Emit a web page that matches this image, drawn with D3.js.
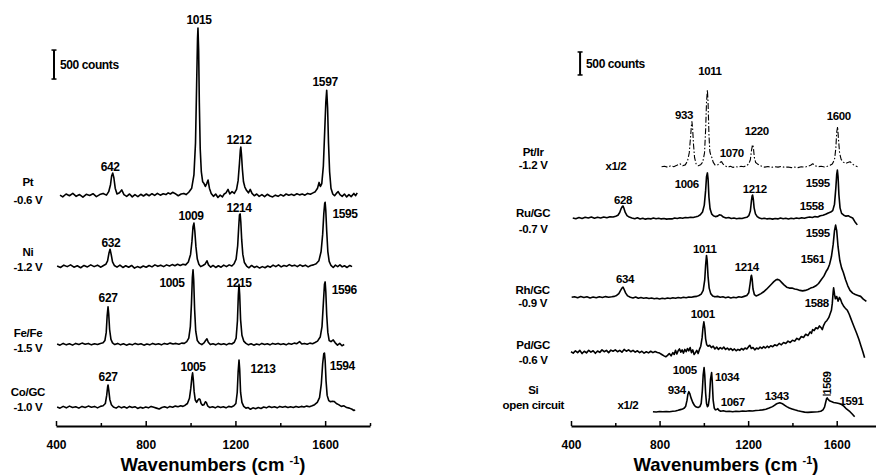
<!DOCTYPE html>
<html>
<head>
<meta charset="utf-8">
<script src="https://cdn.jsdelivr.net/npm/d3@7"></script>
<style>
  body { margin: 0; background: #fff; }
  text { font-family: "Liberation Sans", Arial, sans-serif; font-weight: bold; fill: #000; }
</style>
</head>
<body>
<svg id="chart" width="876" height="476"></svg>
<script>
// SERS spectra, two panels. Values are [wavenumber cm-1, counts above trace baseline]

// ---- left panel spectra ----
const ptSpec = [[418,0],[430,-30],[445,20],[460,-10],[475,30],[490,-20],[505,10],[520,-35],[535,15],[550,-5],[565,25],[580,-25],[595,10],[610,30],[625,0],[635,60],[643,180],[648,330],[653,380],[658,300],[664,120],[672,20],[683,40],[693,90],[703,10],[715,-20],[728,20],[740,-30],[752,10],[765,-25],[778,15],[790,-15],[803,20],[815,-10],[828,25],[840,-5],[852,30],[865,0],[878,25],[890,10],[900,40],[910,20],[920,50],[930,30],[945,-10],[958,20],[970,30],[980,10],[992,50],[1005,120],[1015,350],[1022,900],[1027,1900],[1031,2700],[1033,2880],[1036,2500],[1039,1600],[1043,800],[1048,400],[1054,230],[1060,200],[1066,150],[1072,200],[1078,260],[1084,120],[1092,30],[1102,-20],[1112,20],[1122,-40],[1132,0],[1142,-30],[1150,20],[1158,40],[1167,100],[1175,20],[1185,60],[1195,30],[1205,100],[1212,250],[1218,550],[1222,780],[1224,830],[1227,700],[1231,450],[1236,230],[1242,140],[1250,80],[1258,40],[1266,100],[1274,30],[1284,-10],[1295,20],[1306,-20],[1318,10],[1330,-25],[1342,15],[1354,-15],[1366,-30],[1378,0],[1390,-20],[1402,10],[1414,-15],[1426,20],[1438,0],[1450,15],[1462,-5],[1474,25],[1486,5],[1498,20],[1510,0],[1522,30],[1534,15],[1546,40],[1556,60],[1566,120],[1573,220],[1579,150],[1585,200],[1592,500],[1598,1100],[1603,1600],[1607,1810],[1611,1500],[1615,900],[1620,400],[1626,120],[1634,20],[1642,-10],[1650,30],[1658,60],[1666,10],[1676,-20],[1686,20],[1696,-30],[1706,10],[1716,-25],[1728,30],[1736,-10],[1743,40]];

const niSpec = [[405,0],[420,-25],[435,15],[450,-10],[465,20],[480,-20],[495,5],[510,-30],[525,10],[540,-15],[555,20],[570,-10],[585,15],[600,-20],[612,10],[622,30],[630,90],[636,220],[641,290],[646,200],[652,70],[660,10],[672,-20],[685,15],[698,-25],[711,5],[724,-20],[737,10],[750,-35],[763,-10],[776,-30],[789,0],[802,-20],[815,10],[828,-15],[841,20],[854,-5],[867,15],[880,-10],[893,20],[906,0],[918,25],[930,5],[942,30],[954,10],[966,30],[978,20],[990,70],[1000,200],[1006,420],[1011,680],[1015,740],[1019,600],[1024,330],[1030,120],[1037,30],[1045,-10],[1055,10],[1064,30],[1073,90],[1080,20],[1090,-20],[1100,10],[1112,-25],[1124,5],[1136,-20],[1148,15],[1160,-10],[1172,20],[1184,0],[1194,40],[1203,120],[1210,350],[1215,700],[1218,880],[1221,900],[1224,760],[1228,450],[1233,200],[1240,60],[1250,0],[1260,-30],[1272,10],[1284,-25],[1296,-5],[1308,-35],[1320,-10],[1332,-30],[1344,0],[1356,-20],[1368,15],[1380,-10],[1392,20],[1404,-15],[1416,10],[1428,-5],[1440,25],[1452,0],[1464,15],[1476,-10],[1488,20],[1500,-5],[1512,15],[1524,-15],[1536,10],[1548,20],[1560,40],[1572,90],[1582,250],[1589,550],[1594,900],[1598,1080],[1600,1100],[1603,950],[1607,600],[1612,250],[1618,80],[1626,10],[1636,-25],[1646,15],[1656,-10],[1666,20],[1676,-15],[1686,5],[1698,-25],[1710,10],[1720,-10]];

const feSpec = [[405,0],[418,-20],[432,10],[446,-15],[460,5],[474,-20],[488,10],[502,-10],[516,15],[530,-5],[544,10],[558,-15],[572,5],[585,-10],[598,10],[610,20],[618,60],[624,200],[628,480],[632,640],[635,520],[639,250],[645,80],[652,20],[662,-10],[675,10],[688,-15],[701,5],[714,-20],[727,0],[740,-15],[753,10],[766,-10],[779,5],[792,-20],[805,0],[818,-15],[831,10],[844,-10],[857,5],[870,-15],[883,10],[896,-5],[909,15],[922,0],[935,10],[948,-5],[960,15],[972,10],[983,40],[992,100],[999,300],[1004,700],[1008,1150],[1011,1280],[1014,1100],[1018,600],[1023,220],[1030,60],[1040,10],[1050,-10],[1060,20],[1067,60],[1073,90],[1079,30],[1088,-10],[1100,5],[1112,-15],[1124,10],[1136,-10],[1148,5],[1160,-15],[1172,10],[1184,0],[1195,30],[1203,100],[1209,400],[1213,850],[1216,1030],[1219,850],[1223,420],[1229,150],[1237,50],[1247,10],[1258,-15],[1270,5],[1282,-20],[1294,0],[1306,-15],[1318,10],[1330,-10],[1342,5],[1354,-15],[1366,10],[1378,-5],[1390,10],[1402,-10],[1414,5],[1426,-15],[1438,10],[1450,-5],[1462,15],[1474,5],[1486,40],[1496,0],[1508,10],[1520,-5],[1532,15],[1544,5],[1555,25],[1566,50],[1578,120],[1586,300],[1592,700],[1597,1030],[1600,1070],[1603,900],[1607,500],[1612,200],[1618,60],[1626,40],[1636,70],[1645,20],[1655,-20],[1665,10],[1675,-30],[1685,-10]];

const coSpec = [[405,0],[418,-20],[432,10],[446,-15],[460,15],[474,-10],[488,5],[502,-20],[516,10],[530,-10],[544,15],[558,-5],[572,10],[585,-15],[598,10],[610,20],[620,60],[626,200],[630,340],[632,380],[635,300],[640,130],[647,40],[656,0],[668,-20],[680,10],[692,-15],[704,5],[716,-20],[728,10],[740,-10],[752,5],[764,-25],[776,-5],[788,-20],[800,0],[812,-15],[824,10],[836,-5],[848,-20],[860,-35],[872,-10],[884,5],[896,-15],[908,10],[920,-5],[932,15],[944,5],[956,20],[966,10],[976,30],[986,60],[995,150],[1001,320],[1006,520],[1009,590],[1012,480],[1016,260],[1021,120],[1027,80],[1033,120],[1038,140],[1042,130],[1047,60],[1053,30],[1060,40],[1066,90],[1070,80],[1076,20],[1086,-10],[1098,5],[1110,-15],[1122,10],[1134,-10],[1146,5],[1158,-15],[1170,10],[1182,0],[1193,20],[1202,60],[1208,250],[1212,600],[1216,810],[1219,650],[1223,250],[1229,80],[1237,10],[1247,-20],[1257,-10],[1267,-40],[1278,-15],[1290,-30],[1302,-10],[1314,-25],[1326,0],[1338,-15],[1350,10],[1362,-10],[1374,5],[1386,-15],[1398,10],[1410,-5],[1422,10],[1434,-10],[1446,5],[1458,-10],[1470,10],[1482,-5],[1494,10],[1506,0],[1518,15],[1530,5],[1542,20],[1553,40],[1565,80],[1575,160],[1583,400],[1589,750],[1594,920],[1597,930],[1600,800],[1604,450],[1609,200],[1616,110],[1624,90],[1632,100],[1640,95],[1650,60],[1660,40],[1672,10],[1684,20],[1696,-10],[1708,-20],[1720,-40],[1728,-60],[1734,-50]];

// ---- right panel spectra ----
const ptirSpec = [[809,0],[822,10],[836,-10],[850,20],[864,0],[878,30],[892,65],[904,20],[916,40],[926,120],[934,300],[940,650],[944,900],[946,980],[949,850],[953,500],[958,200],[965,60],[975,20],[985,40],[995,100],[1003,300],[1008,800],[1012,1400],[1016,1670],[1019,1400],[1023,700],[1027,330],[1031,260],[1036,200],[1042,100],[1050,40],[1060,30],[1068,60],[1075,100],[1080,110],[1086,60],[1096,20],[1108,-10],[1120,10],[1132,-15],[1144,0],[1156,-10],[1168,10],[1180,0],[1192,20],[1203,60],[1210,150],[1215,350],[1219,460],[1221,480],[1224,400],[1228,200],[1234,90],[1242,60],[1252,30],[1262,10],[1275,-10],[1290,5],[1305,-15],[1320,0],[1335,-10],[1350,5],[1365,-15],[1380,-5],[1395,-20],[1410,-10],[1425,-20],[1440,0],[1455,-10],[1470,10],[1482,30],[1492,65],[1502,20],[1515,0],[1530,10],[1545,-5],[1558,10],[1570,30],[1580,60],[1590,150],[1596,400],[1600,750],[1604,870],[1608,600],[1613,300],[1620,160],[1630,100],[1640,70],[1650,90],[1660,110],[1670,60],[1682,20],[1694,0]];

const ruSpec = [[408,0],[422,-15],[436,10],[450,-10],[464,15],[478,0],[492,20],[506,-5],[520,15],[534,0],[548,20],[562,5],[576,25],[590,20],[602,40],[612,60],[620,120],[627,210],[632,250],[635,260],[639,210],[645,120],[653,50],[663,20],[675,0],[688,-15],[700,5],[712,-20],[724,-5],[736,-25],[748,-10],[760,-20],[772,0],[784,-15],[796,-5],[808,-20],[820,-10],[832,-25],[844,-15],[856,-20],[868,0],[880,-10],[892,5],[904,-5],[916,10],[928,5],[940,15],[952,10],[964,25],[974,40],[984,70],[994,130],[1002,280],[1008,600],[1012,900],[1016,980],[1019,850],[1023,450],[1028,200],[1035,90],[1043,50],[1052,30],[1062,40],[1070,70],[1078,60],[1088,20],[1100,0],[1112,10],[1124,-10],[1136,0],[1148,-15],[1160,-5],[1172,-10],[1184,5],[1194,15],[1203,50],[1210,150],[1215,380],[1218,480],[1220,500],[1223,420],[1227,220],[1233,90],[1241,30],[1251,0],[1262,-15],[1274,-5],[1286,-20],[1298,-10],[1310,-25],[1322,-10],[1334,-20],[1346,0],[1358,-15],[1370,-5],[1382,-20],[1394,-5],[1406,-15],[1418,0],[1430,-10],[1442,5],[1454,-5],[1466,10],[1478,20],[1490,10],[1502,30],[1514,20],[1526,50],[1538,60],[1550,80],[1562,110],[1573,130],[1582,160],[1590,300],[1596,650],[1600,950],[1603,1040],[1606,900],[1610,500],[1615,220],[1622,100],[1632,60],[1642,40],[1652,50],[1662,20],[1672,0],[1682,-80],[1693,-150]];

const rhSpec = [[403,0],[416,10],[430,-10],[444,15],[458,-5],[472,10],[486,-15],[500,5],[514,-10],[528,10],[542,-5],[556,15],[570,0],[584,10],[596,20],[606,40],[616,80],[624,150],[630,200],[635,220],[640,170],[647,90],[656,30],[668,0],[680,-15],[692,5],[704,-20],[716,-5],[728,-20],[740,-10],[752,-25],[764,-15],[776,-30],[788,-20],[800,-35],[812,-20],[824,-30],[836,-15],[848,-25],[860,-10],[872,-20],[884,-5],[896,-15],[908,0],[920,-10],[932,5],[944,0],[956,15],[968,20],[978,40],[988,70],[997,150],[1004,380],[1008,700],[1012,910],[1015,800],[1019,450],[1024,200],[1031,80],[1040,30],[1050,10],[1062,20],[1074,0],[1086,10],[1098,-10],[1110,5],[1122,-15],[1134,0],[1146,-10],[1158,10],[1170,0],[1182,20],[1194,40],[1203,100],[1209,300],[1213,450],[1215,480],[1218,400],[1222,180],[1228,60],[1236,30],[1246,50],[1258,80],[1270,120],[1282,170],[1294,230],[1306,290],[1316,340],[1326,380],[1334,390],[1342,370],[1352,320],[1362,270],[1374,220],[1386,200],[1398,200],[1410,180],[1422,170],[1434,150],[1446,140],[1458,150],[1470,170],[1482,200],[1494,220],[1506,250],[1518,300],[1530,380],[1542,460],[1552,560],[1560,620],[1568,720],[1576,880],[1584,1150],[1590,1450],[1595,1570],[1600,1450],[1606,1100],[1614,800],[1622,640],[1630,540],[1640,380],[1650,250],[1660,150],[1672,90],[1684,60],[1696,40],[1708,20],[1720,-40],[1734,-90]];

const pdSpec = [[400,0],[410,-30],[420,20],[430,-20],[440,30],[450,-40],[460,10],[470,-25],[480,30],[490,-10],[500,20],[510,-35],[520,15],[530,-15],[540,40],[550,0],[560,30],[570,-20],[580,35],[590,10],[600,40],[610,0],[620,30],[630,-10],[640,50],[650,10],[660,40],[670,0],[680,30],[690,-10],[700,20],[710,-20],[720,10],[730,-30],[740,0],[750,-25],[760,10],[770,-20],[780,5],[790,-15],[800,-30],[810,-60],[820,-90],[828,-110],[836,-80],[844,-40],[852,-90],[860,-20],[866,-60],[872,30],[878,-50],[884,20],[890,60],[896,-10],[902,40],[908,-30],[914,50],[920,0],[926,70],[932,20],[938,90],[944,-20],[950,40],[956,-60],[962,-20],[968,30],[974,-40],[980,50],[986,120],[992,300],[996,520],[1000,650],[1004,520],[1008,280],[1013,150],[1019,120],[1026,140],[1034,90],[1042,120],[1050,60],[1058,100],[1066,50],[1074,90],[1082,60],[1090,100],[1098,50],[1106,80],[1114,40],[1122,70],[1130,30],[1138,60],[1146,20],[1154,50],[1162,30],[1170,70],[1178,40],[1186,80],[1194,60],[1202,110],[1208,140],[1214,70],[1222,90],[1230,40],[1238,80],[1246,60],[1254,100],[1262,70],[1270,110],[1278,80],[1286,120],[1294,90],[1302,130],[1311,110],[1320,150],[1330,130],[1340,180],[1350,150],[1360,200],[1370,180],[1380,230],[1390,200],[1400,250],[1410,230],[1420,290],[1430,260],[1440,330],[1450,310],[1460,380],[1470,350],[1480,430],[1486,400],[1491,480],[1498,460],[1506,520],[1514,500],[1522,560],[1530,520],[1535,480],[1540,560],[1548,640],[1556,680],[1564,740],[1570,820],[1576,900],[1580,1050],[1584,1300],[1586,1390],[1590,1250],[1594,1150],[1600,1200],[1606,1100],[1612,1180],[1618,1130],[1624,1050],[1630,1000],[1636,960],[1642,930],[1648,900],[1656,820],[1664,720],[1672,620],[1680,520],[1690,400],[1700,270],[1710,120],[1718,0],[1726,-130]];

const siSpec = [[770,0],[785,-5],[800,5],[815,0],[830,5],[845,0],[860,10],[872,15],[884,30],[894,45],[904,60],[912,80],[918,120],[924,250],[928,380],[932,435],[936,400],[942,300],[950,200],[958,130],[966,100],[974,90],[982,110],[988,180],[993,450],[997,800],[1001,960],[1004,800],[1008,400],[1012,180],[1016,110],[1020,130],[1025,300],[1030,700],[1035,850],[1038,650],[1042,250],[1047,80],[1052,40],[1058,50],[1063,65],[1068,30],[1076,10],[1088,20],[1100,5],[1115,10],[1130,0],[1145,10],[1160,5],[1175,15],[1190,10],[1205,20],[1220,15],[1235,25],[1250,30],[1265,40],[1280,55],[1295,80],[1310,110],[1322,150],[1332,180],[1343,195],[1352,180],[1362,150],[1374,110],[1386,80],[1398,60],[1410,40],[1425,20],[1440,5],[1455,-10],[1470,-15],[1485,-10],[1500,-5],[1515,0],[1528,10],[1538,40],[1545,100],[1550,200],[1554,280],[1557,300],[1561,270],[1567,240],[1576,220],[1586,200],[1600,190],[1610,180],[1621,160],[1632,120],[1644,60],[1660,0],[1670,-50],[1681,-110]];

// trace baselines (counts above the axis)
const leftTraces = [ptSpec, niSpec, feSpec, coSpec];
const leftOffsets = [3980, 2758, 1414, 328];
const rightTraces = [ptirSpec, ruSpec, rhSpec, pdSpec, siSpec];
const rightOffsets = [5637, 4522, 2798, 1615, 311];
const rightDashed = [true, false, false, false, false];

// sample labels: [line, wavenumber, counts]
const leftNames = [["Pt", 275, 4207], ["-0.6 V", 275, 3896], ["Ni", 275, 3000], ["-1.2 V", 275, 2741],
  ["Fe/Fe", 275, 1603], ["-1.5 V", 275, 1345], ["Co/GC", 275, 586], ["-1.0 V", 275, 328]];
const rightNames = [["Pt/Ir", 229, 5957], ["-1.2 V", 229, 5674], ["Ru/GC", 229, 4631], ["-0.7 V", 229, 4283],
  ["Rh/GC", 227, 2957], ["-0.9 V", 227, 2674], ["Pd/GC", 229, 1760], ["-0.6 V", 229, 1435],
  ["Si", 230, 783], ["open circuit", 230, 457]];

// peak labels: [text, wavenumber, counts]
const leftPeaks = [["642",641,4465],["1015",1038,7000],["1212",1216,4931],["1597",1600,5931],
  ["632",645,3155],["1009",1002,3620],["1214",1216,3758],["1595",1689,3655],
  ["627",632,2207],["1005",917,2465],["1215",1216,2465],["1596",1685,2345],
  ["627",632,845],["1005",1011,1017],["1213",1323,983],["1594",1676,1034]];
const rightPeaks = [["1011",1027,7718],["933",910,6761],["1070",1126,5935],["1220",1239,6413],["1600",1609,6739],
  ["x1/2",603,5652],["1006",923,5261],["628",635,4913],["1212",1230,5152],["1595",1514,5283],["1558",1487,4783],
  ["1595",1514,4196],["1011",1004,3848],["1214",1194,3457],["634",644,3196],["1561",1492,3631],
  ["1588",1510,2674],["1001",995,2435],
  ["1005",914,1217],["1034",1104,1065],["934",878,783],["1067",1131,522],["1343",1329,652],
  ["1591",1667,543],["x1/2",657,457]];
const rotatedPeak = ["1569", 1555, 935];

const majorTicks = [400, 800, 1200, 1600];
const minorTicks = [600, 1000, 1400, 1800];
const scaleBar = 500; // counts

const svg = d3.select("#chart");

function drawPanel(o) {
  const x = d3.scaleLinear().domain([400, 1800]).range(o.xRange);
  const y = d3.scaleLinear().domain([0, scaleBar]).range([426, 426 - o.barPx]);
  const g = svg.append("g");

  // traces
  const line = d3.line().x(d => x(d[0]));
  o.traces.forEach((t, i) => {
    const off = o.offsets[i];
    const dashed = o.dashed && o.dashed[i];
    g.append("path")
      .datum(t)
      .attr("d", line.y(d => y(d[1] + off)))
      .attr("fill", "none")
      .attr("stroke", "#000")
      .attr("stroke-width", dashed ? 1.1 : 1.6)
      .attr("stroke-dasharray", dashed ? "6,2,1.5,2" : null)
      .attr("stroke-linejoin", "round");
  });

  // axis
  const axis = d3.axisBottom(x).tickValues(majorTicks).tickFormat(d3.format("d"))
    .tickSizeInner(-5).tickSizeOuter(0).tickPadding(14);
  const ag = g.append("g").attr("transform", "translate(0,426)").call(axis);
  ag.select(".domain").attr("stroke-width", 2);
  ag.selectAll(".tick line").attr("stroke-width", 1.5);
  ag.selectAll("text").style("font-size", "12px").style("font-family", "Liberation Sans, Arial").style("font-weight", "bold");
  const mg = g.append("g").attr("transform", "translate(0,426)")
    .call(d3.axisBottom(x).tickValues(minorTicks).tickFormat("").tickSizeInner(-3).tickSizeOuter(0));
  mg.select(".domain").remove();
  mg.selectAll(".tick line").attr("stroke-width", 1.5);

  // title
  const cx = (o.xRange[0] + o.xRange[1]) / 2;
  const tt = g.append("text").attr("x", cx).attr("y", 471).attr("text-anchor", "middle")
    .style("font-size", "18.5px");
  tt.append("tspan").text("Wavenumbers (cm ");
  tt.append("tspan").text("-1").attr("dy", -7).style("font-size", "11px");
  tt.append("tspan").text(")").attr("dy", 7);

  // scale bar
  const bx = x(o.bar[0]);
  const b0 = y(o.bar[1]), b1 = y(o.bar[1] + scaleBar);
  g.append("line").attr("x1", bx).attr("x2", bx).attr("y1", b0).attr("y2", b1).attr("stroke", "#000").attr("stroke-width", 2);
  [b0, b1].forEach(v => g.append("line").attr("x1", bx - 2.5).attr("x2", bx + 2.5).attr("y1", v).attr("y2", v)
    .attr("stroke", "#000").attr("stroke-width", 1.5));
  g.append("text").attr("x", bx + 6).attr("y", (b0 + b1) / 2).attr("dy", "0.35em")
    .style("font-size", "12px").style("letter-spacing", "-0.4px").text("500 counts");

  // labels
  o.names.forEach(n => g.append("text").attr("x", x(n[1])).attr("y", y(n[2])).attr("dy", "0.35em")
    .attr("text-anchor", "middle").style("font-size", "11.5px").style("letter-spacing", "-0.3px").text(n[0]));
  o.peaks.forEach(p => g.append("text").attr("x", x(p[1])).attr("y", y(p[2])).attr("dy", "0.35em")
    .attr("text-anchor", "middle").style("font-size", o.peakFont).style("letter-spacing", "-0.4px").text(p[0]));
  return { x, y, g };
}

drawPanel({ xRange: [56, 370], barPx: 29, traces: leftTraces, offsets: leftOffsets,
  names: leftNames, peaks: leftPeaks, bar: [391, 5982], peakFont: "12px" });

const right = drawPanel({ xRange: [571, 881], barPx: 23, traces: rightTraces, offsets: rightOffsets,
  dashed: rightDashed, names: rightNames, peaks: rightPeaks, bar: [441, 7631], peakFont: "11.5px" });

// vertical label on the Si trace
const rx = right.x(rotatedPeak[1]), ry = right.y(rotatedPeak[2]);
right.g.append("text").attr("transform", `translate(${rx},${ry}) rotate(-90)`).attr("dy", "0.35em")
  .attr("text-anchor", "middle").style("font-size", "11px").style("letter-spacing", "-0.4px").text(rotatedPeak[0]);
right.g.append("line").attr("x1", rx - 4).attr("x2", rx + 4).attr("y1", ry + 12).attr("y2", ry + 12)
  .attr("stroke", "#000").attr("stroke-width", 1.2);
</script>
</body>
</html>
